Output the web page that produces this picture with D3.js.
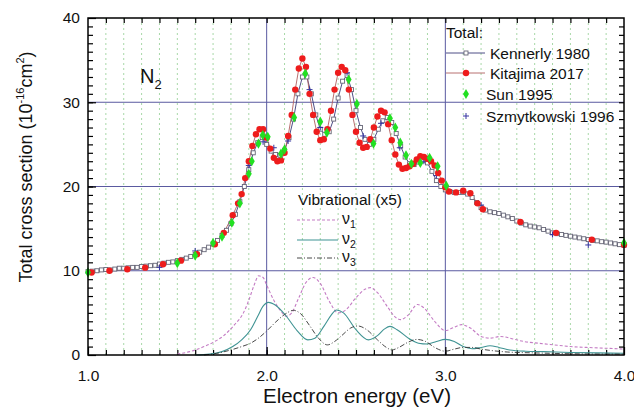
<!DOCTYPE html>
<html>
<head>
<meta charset="utf-8">
<script src="https://cdn.jsdelivr.net/npm/d3@7"></script>
<style>
  body { margin: 0; background: #fff; }
  svg { font-family: Arial, "Liberation Sans", sans-serif; }
</style>
</head>
<body>
<div id="chart"></div>
<script>
// Kennerly 1980: regular energy grid (start + step)
var kennerlyStart = 1.0, kennerlyStep = 0.025;
var kennerlyValues = [
  9.9, 9.95, 10.0, 10.1, 10.15, 10.1, 10.2, 10.3, 10.3, 10.35,
  10.4, 10.4, 10.5, 10.55, 10.6, 10.65, 10.8, 10.9, 11.0, 11.05,
  11.2, 11.35, 11.5, 11.7, 11.95, 12.2, 12.5, 12.8, 13.2, 13.6,
  14.2, 14.8, 15.6, 16.7, 18.2, 20.0, 22.0, 24.0, 25.2, 25.8,
  25.0, 24.2, 23.8, 23.7, 24.3, 25.8, 28.0, 31.0, 33.0, 33.0,
  31.0, 28.5, 26.8, 26.2, 26.5, 28.0, 30.5, 32.5, 33.2, 31.5,
  29.0, 27.0, 25.6, 25.0, 25.6, 26.8, 27.8, 28.2, 27.6, 26.3,
  24.8, 23.5, 22.7, 22.6, 22.9, 23.1, 22.8, 21.8, 20.7, 20.0,
  19.6, 19.4, 19.3, 19.3, 19.3, 19.1, 18.7, 18.1, 17.5, 17.2,
  17.0, 16.9, 16.8, 16.6, 16.4, 16.2, 15.9, 15.65, 15.45, 15.3,
  15.2, 15.1, 14.9, 14.7, 14.5, 14.4, 14.3, 14.2, 14.1, 14.0,
  13.9, 13.8, 13.7, 13.6, 13.55, 13.45, 13.4, 13.3, 13.2, 13.1,
  13.0
];

// Kitajima 2017
var kitajimaEnergy = [
  1.02, 1.12, 1.22, 1.32, 1.42, 1.52, 1.61, 1.71, 1.76, 1.81,
  1.84, 1.86, 1.88, 1.90, 1.92, 1.94, 1.96, 1.98, 2.00, 2.02,
  2.04, 2.06, 2.08, 2.10, 2.12, 2.14, 2.16, 2.18, 2.20, 2.22,
  2.24, 2.26, 2.28, 2.30, 2.32, 2.34, 2.36, 2.38, 2.40, 2.42,
  2.44, 2.46, 2.48, 2.50, 2.52, 2.54, 2.56, 2.58, 2.60, 2.62,
  2.64, 2.66, 2.68, 2.70, 2.72, 2.74, 2.76, 2.78, 2.80, 2.82,
  2.84, 2.86, 2.88, 2.90, 2.92, 2.94, 2.96, 2.98, 3.00, 3.02,
  3.06, 3.10, 3.14, 3.18, 3.21, 3.42, 3.62, 3.82, 4.00
];
var kitajimaValues = [
  9.8, 10.0, 10.17, 10.37, 10.77, 11.2, 11.96, 13.15, 14.5, 16.6,
  18.0, 19.1, 21.0, 23.0, 24.8, 26.2, 26.8, 26.8, 25.8, 24.5,
  23.4, 23.0, 23.1, 24.0, 26.0, 28.5, 31.5, 34.0, 35.2, 34.2,
  31.0, 28.5, 26.5, 25.5, 25.6, 26.8, 29.0, 31.5, 33.5, 34.2,
  33.8, 31.5, 28.5, 26.5, 25.2, 24.6, 24.7, 25.6, 27.0, 28.3,
  29.0, 28.8, 27.4, 25.5, 23.8, 22.6, 22.1, 22.2, 22.4, 22.7,
  23.2, 23.6, 23.5, 23.3, 23.0, 22.5, 21.6, 20.7, 19.9, 19.4,
  19.3, 19.5, 19.2, 18.0, 17.3, 15.8, 14.5, 13.7, 13.1
];

// Sun 1995
var sunEnergy = [
  1.00, 1.50, 1.60, 1.70, 1.75, 1.805, 1.85, 1.90, 1.917, 1.954,
  1.978, 2.006, 2.08, 2.10, 2.154, 2.216, 2.30, 2.337, 2.459, 2.505,
  2.598, 2.69, 2.72, 2.748, 2.78, 2.81, 2.86, 2.912, 2.957, 3.005,
  4.00
];
var sunValues = [
  9.8, 10.9, 11.8, 13.3, 14.05, 15.7, 18.0, 21.5, 23.0, 25.1,
  26.1, 25.9, 23.9, 24.4, 28.2, 33.4, 27.7, 26.4, 32.7, 29.8,
  25.1, 28.1, 27.0, 25.2, 23.7, 22.7, 22.8, 23.4, 22.4, 20.1,
  13.3
];

// Szmytkowski 1996
var szmytEnergy = [1.40, 1.60, 1.90, 1.98, 2.04, 2.12, 2.24, 2.30, 2.45, 2.54, 2.64, 2.745, 2.88, 2.95, 3.20, 3.60, 3.80, 4.00];
var szmytValues = [10.4, 12.35, 22.5, 25.3, 24.6, 25.4, 31.5, 27.0, 33.5, 26.0, 27.5, 24.6, 23.0, 21.3, 17.8, 14.3, 13.06, 13.06];

// Vibrational cross sections (x5)
var nu1Energy = [1.50, 1.57, 1.65, 1.70, 1.76, 1.82, 1.87, 1.90, 1.93, 1.955, 1.98, 2.00, 2.04, 2.08, 2.11, 2.14, 2.18, 2.22, 2.26, 2.30,
  2.35, 2.40, 2.44, 2.50, 2.55, 2.58, 2.62, 2.68, 2.72, 2.75, 2.79, 2.845, 2.88, 2.94, 3.00, 3.05, 3.09, 3.14, 3.20, 3.25,
  3.31, 3.38, 3.44, 3.52, 3.61, 3.70, 3.79, 3.90, 4.00];
var nu1Values = [0.1, 0.4, 1.0, 1.5, 2.3, 3.6, 5.0, 6.5, 8.3, 9.4, 9.2, 8.3, 6.5, 5.2, 4.6, 5.0, 6.8, 8.6, 9.2, 8.5,
  6.4, 5.0, 5.3, 6.8, 7.8, 8.0, 7.4, 5.6, 4.5, 4.2, 4.7, 6.0, 5.6, 4.0, 2.9, 3.3, 3.6, 3.2, 2.2, 2.0,
  2.2, 1.9, 1.6, 1.4, 1.2, 1.0, 0.9, 0.8, 0.7];

var nu2Energy = [1.60, 1.68, 1.75, 1.81, 1.86, 1.91, 1.95, 1.98, 2.01, 2.05, 2.11, 2.17, 2.23, 2.27, 2.32, 2.36, 2.39, 2.43, 2.50, 2.57,
  2.62, 2.66, 2.69, 2.73, 2.80, 2.85, 2.90, 2.95, 3.00, 3.05, 3.10, 3.15, 3.20, 3.25, 3.30, 3.36, 3.45, 3.55, 3.70, 3.85, 4.00];
var nu2Values = [0.0, 0.1, 0.4, 1.0, 1.8, 3.0, 4.6, 5.8, 6.25, 5.9, 4.6, 2.9, 1.8, 2.0, 3.4, 4.7, 5.35, 5.0, 3.0, 1.8,
  2.3, 3.1, 3.4, 3.0, 1.9, 1.4, 1.3, 1.6, 1.85, 1.6, 1.0, 0.75, 0.9, 1.1, 0.9, 0.6, 0.45, 0.4, 0.3, 0.25, 0.2];

var nu3Energy = [1.65, 1.72, 1.80, 1.86, 1.91, 1.96, 2.00, 2.05, 2.10, 2.15, 2.19, 2.24, 2.29, 2.34, 2.38, 2.42, 2.47, 2.51, 2.56, 2.62,
  2.67, 2.70, 2.74, 2.79, 2.84, 2.89, 2.94, 3.00, 3.05, 3.10, 3.15, 3.20, 3.27, 3.35, 3.50, 3.70, 4.00];
var nu3Values = [0.0, 0.2, 0.6, 1.0, 1.4, 2.1, 2.85, 3.9, 4.8, 5.3, 4.9, 3.5, 2.0, 1.2, 1.6, 2.3, 3.2, 3.45, 3.0, 1.8,
  0.9, 0.6, 0.9, 1.5, 1.85, 1.6, 0.9, 0.45, 0.7, 0.9, 0.9, 0.7, 0.5, 0.35, 0.25, 0.15, 0.1];

var xMajorTicks = [1, 2, 3, 4];
var yMajorTicks = [0, 10, 20, 30, 40];

// Set the dimensions and margins of the diagram
var margin = {top: 18, right: 10, bottom: 53, left: 88},
    width = 634 - margin.left - margin.right,
    height = 408 - margin.top - margin.bottom;

var svg = d3.select("#chart").append("svg")
    .attr("width", 634)
    .attr("height", 408)
  .append("g")
    .attr("transform", "translate(" + margin.left + "," + margin.top + ")");

var x = d3.scaleLinear().domain([1, 4]).range([0, width]);
var y = d3.scaleLinear().domain([0, 40]).range([height, 0]);

function pairs(es, vs) { return es.map(function(e, i) { return [e, vs[i]]; }); }

var kennerly = kennerlyValues.map(function(v, i) { return [kennerlyStart + i * kennerlyStep, v]; });
var kitajima = pairs(kitajimaEnergy, kitajimaValues);
var sun = pairs(sunEnergy, sunValues);
var szmyt = pairs(szmytEnergy, szmytValues);

var minorX = d3.range(11, 40).map(function(d) { return d / 10; });
var minorY = d3.range(1, 40);

// ---- grid ----
svg.selectAll("line.vgrid")
    .data(minorX.filter(function(d) { return Math.round(d * 10) % 10 !== 0; }))
  .enter().append("line")
    .attr("class", "vgrid")
    .attr("x1", function(d) { return x(d); })
    .attr("x2", function(d) { return x(d); })
    .attr("y1", 0).attr("y2", height)
    .attr("stroke", "#a8d8a8")
    .attr("stroke-width", 1)
    .attr("stroke-dasharray", "2,3");

svg.selectAll("line.hmajor")
    .data([10, 20, 30])
  .enter().append("line")
    .attr("x1", 0).attr("x2", width)
    .attr("y1", function(d) { return y(d); })
    .attr("y2", function(d) { return y(d); })
    .attr("stroke", "#5a5aa0").attr("stroke-width", 1);

svg.selectAll("line.vmajor")
    .data([2, 3])
  .enter().append("line")
    .attr("x1", function(d) { return x(d); })
    .attr("x2", function(d) { return x(d); })
    .attr("y1", 0).attr("y2", height)
    .attr("stroke", "#5a5aa0").attr("stroke-width", 1);

// ---- axes (inward ticks) ----
function styleAxis(g) {
    g.select(".domain").remove();
    g.selectAll(".tick line").attr("stroke", "#000").attr("stroke-width", 1.2);
    g.selectAll("text").attr("font-size", 15.5).attr("fill", "#111")
        .attr("font-family", "Arial, 'Liberation Sans', sans-serif");
}
svg.append("g").attr("transform", "translate(0," + height + ")")
    .call(d3.axisBottom(x).tickValues(minorX).tickSize(-5).tickFormat("")).call(styleAxis);
svg.append("g").attr("transform", "translate(0," + height + ")")
    .call(d3.axisBottom(x).tickValues(xMajorTicks).tickSize(-8).tickPadding(15).tickFormat(d3.format(".1f"))).call(styleAxis);
svg.append("g")
    .call(d3.axisTop(x).tickValues(minorX).tickSize(-5).tickFormat("")).call(styleAxis);
svg.append("g")
    .call(d3.axisLeft(y).tickValues(minorY).tickSize(-5).tickFormat("")).call(styleAxis);
svg.append("g")
    .call(d3.axisLeft(y).tickValues(yMajorTicks).tickSize(-8).tickPadding(8)).call(styleAxis);
svg.append("g").attr("transform", "translate(" + width + ",0)")
    .call(d3.axisRight(y).tickValues(minorY).tickSize(-5).tickFormat("")).call(styleAxis);

// ---- vibrational curves ----
var vibLine = d3.line()
    .x(function(d) { return x(d[0]); })
    .y(function(d) { return y(d[1]); })
    .curve(d3.curveMonotoneX);

var vib = [
    {data: pairs(nu1Energy, nu1Values), color: "#c47cc4", dash: "3,2", w: 1.1},
    {data: pairs(nu2Energy, nu2Values), color: "#3f9393", dash: null, w: 1.1},
    {data: pairs(nu3Energy, nu3Values), color: "#333333", dash: "5,2,1,2", w: 0.9}
];
vib.forEach(function(s) {
    svg.append("path")
        .datum(s.data)
        .attr("fill", "none")
        .attr("stroke", s.color)
        .attr("stroke-width", s.w)
        .attr("stroke-dasharray", s.dash)
        .attr("d", vibLine);
});

// ---- total cross sections ----
var line = d3.line()
    .x(function(d) { return x(d[0]); })
    .y(function(d) { return y(d[1]); });

svg.append("path").datum(kennerly)
    .attr("fill", "none").attr("stroke", "#3a3a78").attr("stroke-width", 0.9)
    .attr("d", line);
svg.append("path").datum(kitajima)
    .attr("fill", "none").attr("stroke", "#b06060").attr("stroke-width", 0.9)
    .attr("d", line);

svg.selectAll("rect.ken")
    .data(kennerly)
  .enter().append("rect")
    .attr("class", "ken")
    .attr("x", function(d) { return x(d[0]) - 2; })
    .attr("y", function(d) { return y(d[1]) - 2; })
    .attr("width", 4).attr("height", 4)
    .attr("fill", "#fff").attr("stroke", "#666677").attr("stroke-width", 0.9);

var plus = "M-3,0H3M0,-3V3";
svg.selectAll("path.szm")
    .data(szmyt)
  .enter().append("path")
    .attr("class", "szm")
    .attr("transform", function(d) { return "translate(" + x(d[0]) + "," + y(d[1]) + ")"; })
    .attr("d", plus)
    .attr("stroke", "#3535a0").attr("stroke-width", 1);

svg.selectAll("circle.kit")
    .data(kitajima)
  .enter().append("circle")
    .attr("class", "kit")
    .attr("cx", function(d) { return x(d[0]); })
    .attr("cy", function(d) { return y(d[1]); })
    .attr("r", 3.2)
    .attr("fill", "#ee1c1c");

var diamond = d3.symbol().type(d3.symbolDiamond).size(30);
svg.selectAll("path.sun")
    .data(sun)
  .enter().append("path")
    .attr("class", "sun")
    .attr("transform", function(d) { return "translate(" + x(d[0]) + "," + y(d[1]) + ")"; })
    .attr("d", diamond)
    .attr("fill", "#22e022");

// ---- frame ----
svg.append("rect")
    .attr("width", width).attr("height", height)
    .attr("fill", "none").attr("stroke", "#000").attr("stroke-width", 1.5);

// ---- labels ----
var root = d3.select("svg");

var n2 = root.append("text").attr("x", 140).attr("y", 83).attr("font-size", 20).attr("fill", "#111");
n2.append("tspan").text("N");
n2.append("tspan").attr("font-size", 13).attr("dy", 6).text("2");

root.append("text")
    .attr("x", 357).attr("y", 403)
    .attr("text-anchor", "middle")
    .attr("font-size", 20.5).attr("fill", "#111")
    .text("Electron energy (eV)");

var yl = root.append("text")
    .attr("transform", "translate(32,167) rotate(-90)")
    .attr("text-anchor", "middle")
    .attr("font-size", 18).attr("fill", "#111");
yl.append("tspan").text("Total cross section (10");
yl.append("tspan").attr("font-size", 11).attr("dy", -8).text("-16");
yl.append("tspan").attr("dy", 8).text("cm");
yl.append("tspan").attr("font-size", 11).attr("dy", -8).text("2");
yl.append("tspan").attr("dy", 8).text(")");

// ---- legend: totals ----
var leg = root.append("g").attr("font-size", 15.5).attr("fill", "#111");
leg.append("text").attr("x", 446).attr("y", 38).text("Total:");

leg.append("line").attr("x1", 446).attr("x2", 485).attr("y1", 53).attr("y2", 53)
    .attr("stroke", "#3a3a78").attr("stroke-width", 0.9);
leg.append("rect").attr("x", 464).attr("y", 51).attr("width", 4).attr("height", 4)
    .attr("fill", "#fff").attr("stroke", "#666677").attr("stroke-width", 0.9);
leg.append("text").attr("x", 490).attr("y", 58.5).text("Kennerly 1980");

leg.append("line").attr("x1", 446).attr("x2", 485).attr("y1", 73).attr("y2", 73)
    .attr("stroke", "#b06060").attr("stroke-width", 0.9);
leg.append("circle").attr("cx", 466).attr("cy", 73).attr("r", 3.2).attr("fill", "#ee1c1c");
leg.append("text").attr("x", 490).attr("y", 78.5).text("Kitajima 2017");

leg.append("path").attr("transform", "translate(466,94)").attr("d", diamond).attr("fill", "#22e022");
leg.append("text").attr("x", 486).attr("y", 99.5).text("Sun 1995");

leg.append("path").attr("transform", "translate(466,116)").attr("d", plus)
    .attr("stroke", "#3535a0").attr("stroke-width", 1);
leg.append("text").attr("x", 486).attr("y", 121.5).text("Szmytkowski 1996");

// ---- legend: vibrational ----
var vleg = root.append("g").attr("font-size", 15.5).attr("fill", "#111");
vleg.append("text").attr("x", 298).attr("y", 205).text("Vibrational (x5)");
[220, 240, 258].forEach(function(yy, i) {
    var s = vib[i];
    vleg.append("line").attr("x1", 297).attr("x2", 338).attr("y1", yy).attr("y2", yy)
        .attr("stroke", s.color).attr("stroke-width", s.w).attr("stroke-dasharray", s.dash);
    var t = vleg.append("text").attr("x", 342).attr("y", yy + 4).attr("font-size", 16);
    t.append("tspan").text("ν");
    t.append("tspan").attr("font-size", 10.5).attr("dy", 4).text(i + 1);
});
</script>
</body>
</html>
